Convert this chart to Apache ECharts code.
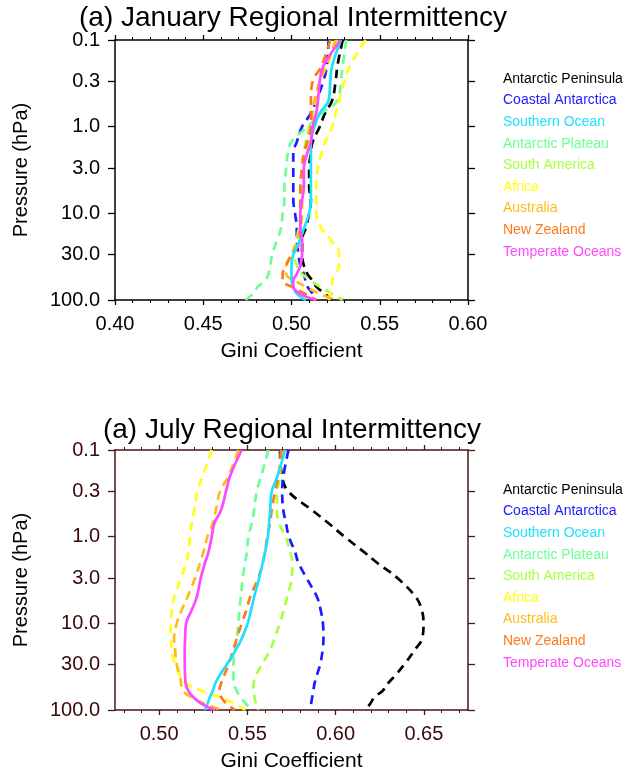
<!DOCTYPE html>
<html><head><meta charset="utf-8">
<script src="https://cdn.jsdelivr.net/npm/echarts@6/dist/echarts.min.js"></script>
<style>html,body{margin:0;padding:0;background:#fff}#c{width:628px;height:774px}</style>
</head><body><div id="c"></div>
<script>
// ---------- DATA ----------
const pressureLevels = [0.1, 0.2, 0.3, 0.5, 0.7, 1, 1.5, 2, 3, 5, 7, 10, 15, 20, 30, 40, 50, 60, 70, 85, 100];
const pressureTicks = [0.1, 0.3, 1, 3, 10, 30, 100];
const pressureTickLabels = ["0.1", "0.3", "1.0", "3.0", "10.0", "30.0", "100.0"];
const janGiniTicks = [0.40, 0.45, 0.50, 0.55, 0.60];
const julGiniTicks = [0.50, 0.55, 0.60, 0.65];
const regionNames = ["Antarctic Peninsula", "Coastal Antarctica", "Southern Ocean", "Antarctic Plateau",
  "South America", "Africa", "Australia", "New Zealand", "Temperate Oceans"];

// January
const janPeninsula     = [0.529, 0.526, 0.525, 0.523, 0.519, 0.516, 0.512, 0.511, 0.510, 0.510, 0.511, 0.510, 0.508, 0.506, 0.506, 0.507, 0.509, 0.512, 0.514, 0.519, 0.523];
const janCoastal       = [0.521, 0.520, 0.518, 0.514, 0.511, 0.506, 0.503, 0.501, 0.501, 0.501, 0.501, 0.502, 0.503, 0.503, 0.504, 0.505, 0.507, 0.508, 0.509, 0.512, 0.513];
const janSouthernOcean = [0.528, 0.523, 0.522, 0.521, 0.516, 0.513, 0.511, 0.511, 0.511, 0.511, 0.511, 0.510, 0.507, 0.505, 0.501, 0.500, 0.500, 0.500, 0.501, 0.503, 0.508];
const janPlateau       = [0.531, 0.529, 0.528, 0.526, 0.517, 0.509, 0.500, 0.498, 0.497, 0.496, 0.496, 0.495, 0.494, 0.492, 0.489, 0.488, 0.487, 0.485, 0.481, 0.478, 0.474];
const janSouthAmerica  = [0.526, 0.519, 0.516, 0.514, 0.512, 0.510, 0.508, 0.507, 0.506, 0.505, 0.505, 0.505, 0.504, 0.503, 0.502, 0.503, 0.506, 0.511, 0.516, 0.523, 0.529];
const janAfrica        = [0.542, 0.533, 0.530, 0.527, 0.525, 0.523, 0.519, 0.517, 0.515, 0.514, 0.514, 0.514, 0.517, 0.522, 0.527, 0.527, 0.525, 0.523, 0.523, 0.522, 0.521];
const janAustralia     = [0.525, 0.520, 0.516, 0.513, 0.512, 0.511, 0.509, 0.508, 0.507, 0.506, 0.506, 0.506, 0.505, 0.503, 0.500, 0.497, 0.497, 0.502, 0.508, 0.516, 0.525];
const janNewZealand    = [0.522, 0.517, 0.512, 0.511, 0.511, 0.511, 0.509, 0.507, 0.506, 0.505, 0.505, 0.505, 0.505, 0.505, 0.500, 0.497, 0.495, 0.495, 0.500, 0.508, 0.514];
const janTemperate     = [0.528, 0.518, 0.516, 0.515, 0.514, 0.512, 0.511, 0.509, 0.507, 0.507, 0.506, 0.505, 0.505, 0.506, 0.506, 0.505, 0.503, 0.501, 0.501, 0.505, 0.514];

// July
const julPeninsula     = [0.5685, 0.5696, 0.5732, 0.5870, 0.5960, 0.6050, 0.6160, 0.6235, 0.6350, 0.6455, 0.6488, 0.6498, 0.6490, 0.6450, 0.6388, 0.6337, 0.6294, 0.6267, 0.6224, 0.6195, 0.6173];
const julCoastal       = [0.5733, 0.5704, 0.5697, 0.5704, 0.5719, 0.5735, 0.5770, 0.5789, 0.5835, 0.5895, 0.5915, 0.5928, 0.5931, 0.5927, 0.5912, 0.5893, 0.5880, 0.5874, 0.5868, 0.5861, 0.5859];
const julSouthernOcean = [0.5714, 0.5670, 0.5638, 0.5629, 0.5623, 0.5616, 0.5601, 0.5587, 0.5567, 0.5538, 0.5521, 0.5502, 0.5468, 0.5436, 0.5383, 0.5342, 0.5317, 0.5304, 0.5289, 0.5274, 0.5260];
const julPlateau       = [0.5620, 0.5578, 0.5553, 0.5538, 0.5525, 0.5506, 0.5497, 0.5487, 0.5474, 0.5463, 0.5455, 0.5449, 0.5440, 0.5430, 0.5421, 0.5421, 0.5425, 0.5440, 0.5459, 0.5493, 0.5525];
const julSouthAmerica  = [0.5690, 0.5685, 0.5670, 0.5667, 0.5680, 0.5716, 0.5742, 0.5755, 0.5751, 0.5725, 0.5706, 0.5684, 0.5653, 0.5630, 0.5582, 0.5548, 0.5535, 0.5533, 0.5539, 0.5550, 0.5563];
const julAfrica        = [0.5298, 0.5247, 0.5217, 0.5198, 0.5185, 0.5175, 0.5166, 0.5153, 0.5124, 0.5085, 0.5073, 0.5066, 0.5068, 0.5071, 0.5090, 0.5119, 0.5160, 0.5240, 0.5336, 0.5430, 0.5487];
const julAustralia     = [0.5449, 0.5393, 0.5345, 0.5321, 0.5304, 0.5274, 0.5251, 0.5232, 0.5204, 0.5160, 0.5128, 0.5100, 0.5085, 0.5090, 0.5100, 0.5119, 0.5125, 0.5135, 0.5175, 0.5260, 0.5355];
const julNewZealand    = [0.5694, 0.5676, 0.5657, 0.5638, 0.5628, 0.5613, 0.5600, 0.5587, 0.5562, 0.5515, 0.5495, 0.5468, 0.5440, 0.5421, 0.5393, 0.5368, 0.5350, 0.5342, 0.5350, 0.5383, 0.5430];
const julTemperate     = [0.5468, 0.5402, 0.5379, 0.5350, 0.5313, 0.5298, 0.5280, 0.5260, 0.5236, 0.5213, 0.5185, 0.5153, 0.5147, 0.5145, 0.5145, 0.5147, 0.5151, 0.5166, 0.5190, 0.5241, 0.5317];

// ---------- STYLE ----------
const regionColors = ["#000000", "#1c1cff", "#20e0ff", "#6cff94", "#aaff44", "#ffff1a", "#ffbb1a", "#ff7a1a", "#ff48ff"];
const regionSolid = [false, false, true, false, false, false, false, false, true];
const FONT = "Liberation Sans, Arial, sans-serif";

const janValues = [janPeninsula, janCoastal, janSouthernOcean, janPlateau, janSouthAmerica, janAfrica, janAustralia, janNewZealand, janTemperate];
const julValues = [julPeninsula, julCoastal, julSouthernOcean, julPlateau, julSouthAmerica, julAfrica, julAustralia, julNewZealand, julTemperate];

const logP = pressureLevels.map(p => Math.log10(p));
const logTicks = pressureTicks.map(p => Math.log10(p));
const yMin = Math.log10(pressureTicks[0]);
const yMax = Math.log10(pressureTicks[pressureTicks.length - 1]);

function minorValues(min, max) {
  const out = [];
  for (let k = Math.ceil(min * 100 - 1e-6); k <= Math.floor(max * 100 + 1e-6); k++) out.push(k / 100);
  return out;
}

function makeXAxes(gridIndex, min, max, majors, lineColor, labelColor) {
  const minors = minorValues(min, max);
  const common = { type: 'value', gridIndex, min, max, splitLine: { show: false } };
  const line = { show: true, onZero: false, lineStyle: { color: lineColor, width: 1.5 } };
  return [
    Object.assign({}, common, {
      position: 'bottom', axisLine: line,
      axisTick: { show: true, length: 5, customValues: majors, lineStyle: { color: lineColor, width: 1.3 } },
      axisLabel: { show: true, customValues: majors, formatter: v => v.toFixed(2), fontSize: 20, color: labelColor, margin: 14, fontFamily: FONT },
      name: 'Gini Coefficient', nameLocation: 'middle', nameGap: 41,
      nameTextStyle: { fontSize: 21, color: '#000', fontFamily: FONT }
    }),
    Object.assign({}, common, {
      position: 'bottom', axisLine: { show: false, onZero: false },
      axisTick: { show: true, length: 3, customValues: minors, lineStyle: { color: lineColor, width: 1 } },
      axisLabel: { show: false }
    }),
    Object.assign({}, common, {
      position: 'top', axisLine: line,
      axisTick: { show: true, length: 5, customValues: majors, lineStyle: { color: lineColor, width: 1.3 } },
      axisLabel: { show: false }
    }),
    Object.assign({}, common, {
      position: 'top', axisLine: { show: false, onZero: false },
      axisTick: { show: true, length: 3, customValues: minors, lineStyle: { color: lineColor, width: 1 } },
      axisLabel: { show: false }
    })
  ];
}

function labelFor(v) {
  for (let i = 0; i < logTicks.length; i++) if (Math.abs(logTicks[i] - v) < 1e-6) return pressureTickLabels[i];
  return '';
}

function makeYAxes(gridIndex, lineColor, labelColor) {
  const common = { type: 'value', gridIndex, min: yMin, max: yMax, inverse: true, splitLine: { show: false } };
  return [
    Object.assign({}, common, {
      position: 'left', axisLine: { show: true, onZero: false, lineStyle: { color: lineColor, width: 1.5 } },
      axisTick: { show: true, length: 7, customValues: logTicks, lineStyle: { color: lineColor, width: 1.3 } },
      axisLabel: { show: true, customValues: logTicks, formatter: labelFor, fontSize: 20, color: labelColor, margin: 15, fontFamily: FONT },
      name: 'Pressure (hPa)', nameLocation: 'middle', nameGap: 84,
      nameTextStyle: { fontSize: 20, color: '#000', fontFamily: FONT }
    }),
    Object.assign({}, common, {
      position: 'right', axisLine: { show: true, onZero: false, lineStyle: { color: lineColor, width: 1.5 } },
      axisTick: { show: true, length: 7, customValues: logTicks, lineStyle: { color: lineColor, width: 1.3 } },
      axisLabel: { show: false }
    })
  ];
}

function makeSeries(values, xIdx, yIdx) {
  return regionNames.map((name, i) => ({
    type: 'line', name, xAxisIndex: xIdx, yAxisIndex: yIdx,
    data: values[i].map((v, k) => [v, logP[k]]),
    showSymbol: false, symbol: 'none', smooth: 0.4,
    lineStyle: { color: regionColors[i], width: 2.7, type: regionSolid[i] ? 'solid' : [9, 6] },
    itemStyle: { color: regionColors[i] },
    z: regionSolid[i] ? 3 : 2, animation: false
  }));
}

function makeLegend(top) {
  return {
    orient: 'vertical', left: 498, top, padding: 0, icon: 'none', itemWidth: 0, itemHeight: 14, itemGap: 7.6,
    selectedMode: false,
    textStyle: { fontSize: 14, fontFamily: FONT },
    data: regionNames.map((n, i) => ({ name: n, textStyle: { color: regionColors[i] } }))
  };
}

const chart = echarts.init(document.getElementById('c'), null, { renderer: 'canvas' });
chart.setOption({
  animation: false,
  backgroundColor: '#fff',
  title: [
    { text: '(a) January Regional Intermittency', left: 293, top: 4, padding: 0, textAlign: 'center',
      textStyle: { fontSize: 28, fontWeight: 'normal', color: '#000', fontFamily: FONT } },
    { text: '(a) July Regional Intermittency', left: 292, top: 416, padding: 0, textAlign: 'center',
      textStyle: { fontSize: 28, fontWeight: 'normal', color: '#000', fontFamily: FONT } }
  ],
  legend: [makeLegend(72), makeLegend(483)],
  grid: [
    { left: 115, top: 40, width: 353, height: 260 },
    { left: 115, top: 450, width: 353, height: 260 }
  ],
  xAxis: [].concat(
    makeXAxes(0, 0.40, 0.60, janGiniTicks, '#000', '#000'),
    makeXAxes(1, 0.475, 0.675, julGiniTicks, '#4a1414', '#3a0808')
  ),
  yAxis: [].concat(
    makeYAxes(0, '#000', '#000'),
    makeYAxes(1, '#4a1414', '#3a0808')
  ),
  series: [].concat(makeSeries(janValues, 0, 0), makeSeries(julValues, 4, 2))
});
</script>
</body></html>
